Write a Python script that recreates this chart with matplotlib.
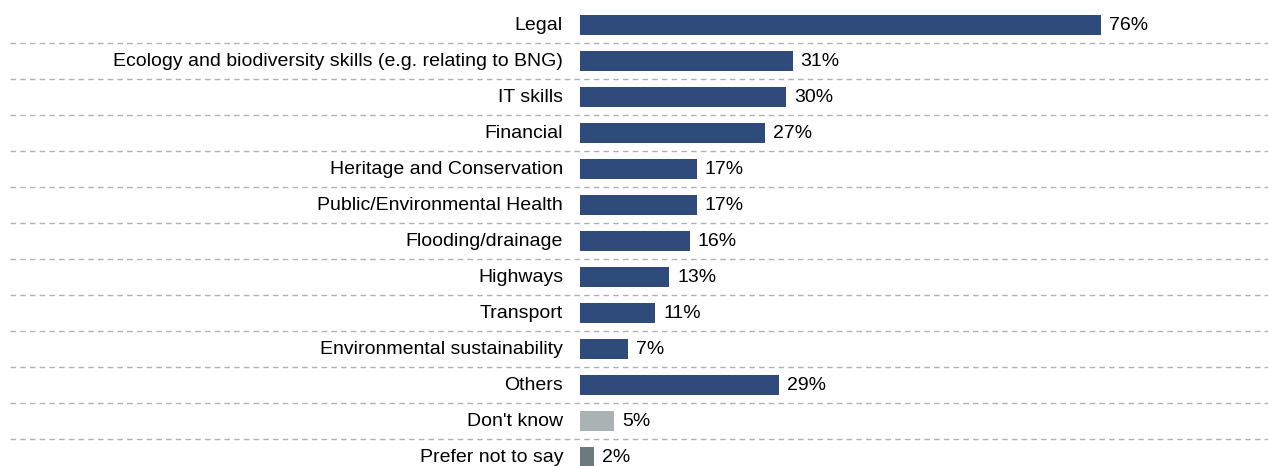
import matplotlib.pyplot as plt

plt.rcParams['font.family'] = ['Liberation Sans', 'DejaVu Sans']

categories = ['Legal', 'Ecology and biodiversity skills (e.g. relating to BNG)',
              'IT skills', 'Financial', 'Heritage and Conservation',
              'Public/Environmental Health', 'Flooding/drainage', 'Highways',
              'Transport', 'Environmental sustainability', 'Others',
              "Don't know", 'Prefer not to say']
values = [76, 31, 30, 27, 17, 17, 16, 13, 11, 7, 29, 5, 2]
colors = ['#2F4B7C'] * 11 + ['#A9B3B4', '#6E7B7E']

fig = plt.figure(figsize=(12.68, 4.66), dpi=100)
ax = fig.add_axes([580 / 1268, 0, 1 - 580 / 1268, 1])

px = 6.86  # pixels per percentage point
ypos = list(range(len(categories)))
ax.barh(ypos, values, height=0.56, color=colors, zorder=3)

for y, v, lab in zip(ypos, values, categories):
    ax.text(v + 8 / px, y, f'{v}%', va='center', ha='left', fontsize=14)
    ax.text(-17 / px, y, lab, va='center', ha='right', fontsize=14)

# dashed separators between rows
for y in ypos[:-1]:
    ax.plot([-570 / px, 700 / px], [y + 0.5, y + 0.5], color='#AEB4B4',
            lw=1, ls=(0, (4, 3)), clip_on=False, zorder=1)

ax.set_xlim(0, 688 / px)
ax.set_ylim((466 - 25) / 36, -25 / 36)
ax.axis('off')

fig.savefig('out.png', dpi=100, facecolor='white')
